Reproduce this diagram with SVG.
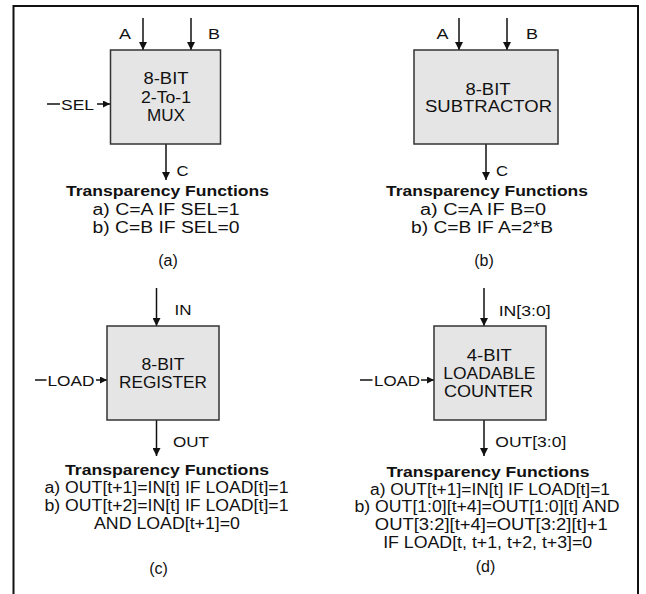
<svg xmlns="http://www.w3.org/2000/svg" width="646" height="594" viewBox="0 0 646 594">
<style>
text{font-family:"Liberation Sans",Arial,sans-serif;fill:#111;font-size:16px}
.lbl{font-size:15.5px}
.c{text-anchor:middle}
.b{font-weight:bold;font-size:15.5px}
.box{fill:#e5e5e5;stroke:#333;stroke-width:1.5}
.w{stroke:#111;stroke-width:1.5;fill:none}
</style>
<defs>
<marker id="ah" viewBox="0 0 8 8" refX="8" refY="4" markerWidth="8" markerHeight="8" markerUnits="userSpaceOnUse" orient="auto"><path d="M0,0 L8,4 L0,8 z" fill="#111"/></marker>
<marker id="as" viewBox="0 0 8 8" refX="8" refY="4" markerWidth="7" markerHeight="7" markerUnits="userSpaceOnUse" orient="auto"><path d="M0,0 L8,4 L0,8 z" fill="#111"/></marker>
</defs>
<rect width="646" height="594" fill="#fff"/>
<path d="M13.5,594 V6 H638 V594" fill="none" stroke="#111" stroke-width="2"/>

<g id="connectors">
<line class="w" x1="143" y1="18" x2="143" y2="50" marker-end="url(#ah)"/>
<line class="w" x1="191" y1="18" x2="191" y2="50" marker-end="url(#ah)"/>
<line class="w" x1="166" y1="144" x2="166" y2="180" marker-end="url(#ah)"/>
<line class="w" x1="47" y1="104" x2="60" y2="104"/>
<line class="w" x1="97" y1="104" x2="110" y2="104" marker-end="url(#as)"/>

<line class="w" x1="459" y1="18" x2="459" y2="50" marker-end="url(#ah)"/>
<line class="w" x1="507" y1="18" x2="507" y2="50" marker-end="url(#ah)"/>
<line class="w" x1="486" y1="144" x2="486" y2="180" marker-end="url(#ah)"/>

<line class="w" x1="156.5" y1="288" x2="156.5" y2="326" marker-end="url(#ah)"/>
<line class="w" x1="156.5" y1="420" x2="156.5" y2="456" marker-end="url(#ah)"/>
<line class="w" x1="35" y1="380" x2="46.5" y2="380"/>
<line class="w" x1="96" y1="380" x2="107" y2="380" marker-end="url(#as)"/>

<line class="w" x1="484" y1="288" x2="484" y2="326" marker-end="url(#ah)"/>
<line class="w" x1="484" y1="420" x2="484" y2="456" marker-end="url(#ah)"/>
<line class="w" x1="360" y1="380" x2="372.5" y2="380"/>
<line class="w" x1="421" y1="380" x2="434" y2="380" marker-end="url(#as)"/>
</g>

<g id="mux">
<rect class="box" x="110.5" y="50" width="110" height="94"/>
<text class="c" x="166" y="84" textLength="45" lengthAdjust="spacingAndGlyphs">8-BIT</text>
<text class="c" x="166" y="102.5" textLength="50" lengthAdjust="spacingAndGlyphs">2-To-1</text>
<text class="c" x="166" y="120.5" textLength="38" lengthAdjust="spacingAndGlyphs">MUX</text>
<text class="lbl c" x="125" y="38.5" textLength="12" lengthAdjust="spacingAndGlyphs">A</text>
<text class="lbl c" x="214" y="38.5" textLength="12" lengthAdjust="spacingAndGlyphs">B</text>
<text class="lbl c" x="182.5" y="175.5" textLength="12" lengthAdjust="spacingAndGlyphs">C</text>
<text class="lbl" x="61" y="109.5" textLength="33" lengthAdjust="spacingAndGlyphs">SEL</text>
<text class="b c" x="167.5" y="196" textLength="203" lengthAdjust="spacingAndGlyphs">Transparency Functions</text>
<text class="c" x="166" y="215" textLength="147" lengthAdjust="spacingAndGlyphs">a) C=A IF SEL=1</text>
<text class="c" x="166" y="233" textLength="147" lengthAdjust="spacingAndGlyphs">b) C=B IF SEL=0</text>
<text class="c" x="168" y="266">(a)</text>
</g>

<g id="subtractor">
<rect class="box" x="414" y="50" width="144" height="94"/>
<text class="c" x="488" y="95" textLength="45" lengthAdjust="spacingAndGlyphs">8-BIT</text>
<text class="c" x="488.5" y="112" textLength="127" lengthAdjust="spacingAndGlyphs">SUBTRACTOR</text>
<text class="lbl c" x="442.5" y="38.5" textLength="12" lengthAdjust="spacingAndGlyphs">A</text>
<text class="lbl c" x="532" y="38.5" textLength="12" lengthAdjust="spacingAndGlyphs">B</text>
<text class="lbl c" x="502" y="175.5" textLength="12" lengthAdjust="spacingAndGlyphs">C</text>
<text class="b c" x="487" y="196" textLength="202" lengthAdjust="spacingAndGlyphs">Transparency Functions</text>
<text class="c" x="483" y="215" textLength="126" lengthAdjust="spacingAndGlyphs">a) C=A IF B=0</text>
<text class="c" x="482" y="233" textLength="142" lengthAdjust="spacingAndGlyphs">b) C=B IF A=2*B</text>
<text class="c" x="484" y="266">(b)</text>
</g>

<g id="register">
<rect class="box" x="107" y="326" width="112" height="94"/>
<text class="c" x="163" y="369.5" textLength="43" lengthAdjust="spacingAndGlyphs">8-BIT</text>
<text class="c" x="163" y="387.5" textLength="88" lengthAdjust="spacingAndGlyphs">REGISTER</text>
<text class="lbl c" x="183" y="314.5" textLength="17" lengthAdjust="spacingAndGlyphs">IN</text>
<text class="lbl" x="47.5" y="385.5" textLength="47" lengthAdjust="spacingAndGlyphs">LOAD</text>
<text class="lbl c" x="191" y="446.5" textLength="36" lengthAdjust="spacingAndGlyphs">OUT</text>
<text class="b c" x="167" y="474.5" textLength="204" lengthAdjust="spacingAndGlyphs">Transparency Functions</text>
<text class="c" x="166.5" y="492.5" textLength="244" lengthAdjust="spacingAndGlyphs">a) OUT[t+1]=IN[t] IF LOAD[t]=1</text>
<text class="c" x="166.5" y="510.5" textLength="244" lengthAdjust="spacingAndGlyphs">b) OUT[t+2]=IN[t] IF LOAD[t]=1</text>
<text class="c" x="167" y="528.5" textLength="146" lengthAdjust="spacingAndGlyphs">AND LOAD[t+1]=0</text>
<text class="c" x="158.5" y="574">(c)</text>
</g>

<g id="counter">
<rect class="box" x="434" y="326" width="112" height="94"/>
<text class="c" x="489.3" y="360.5" textLength="45" lengthAdjust="spacingAndGlyphs">4-BIT</text>
<text class="c" x="489.3" y="378.7" textLength="92" lengthAdjust="spacingAndGlyphs">LOADABLE</text>
<text class="c" x="488.5" y="397" textLength="89" lengthAdjust="spacingAndGlyphs">COUNTER</text>
<text class="lbl" x="498.7" y="315.5" textLength="52" lengthAdjust="spacingAndGlyphs">IN[3:0]</text>
<text class="lbl" x="374" y="385.5" textLength="46" lengthAdjust="spacingAndGlyphs">LOAD</text>
<text class="lbl" x="495.3" y="446.5" textLength="71" lengthAdjust="spacingAndGlyphs">OUT[3:0]</text>
<text class="b c" x="488" y="476.5" textLength="203" lengthAdjust="spacingAndGlyphs">Transparency Functions</text>
<text class="c" x="490" y="494.5" textLength="240" lengthAdjust="spacingAndGlyphs">a) OUT[t+1]=IN[t] IF LOAD[t]=1</text>
<text class="c" x="487" y="512" textLength="265" lengthAdjust="spacingAndGlyphs">b) OUT[1:0][t+4]=OUT[1:0][t] AND</text>
<text class="c" x="491.3" y="530" textLength="233" lengthAdjust="spacingAndGlyphs">OUT[3:2][t+4]=OUT[3:2][t]+1</text>
<text class="c" x="487.7" y="547.7" textLength="209" lengthAdjust="spacingAndGlyphs">IF LOAD[t, t+1, t+2, t+3]=0</text>
<text class="c" x="485.5" y="572">(d)</text>
</g>
</svg>
